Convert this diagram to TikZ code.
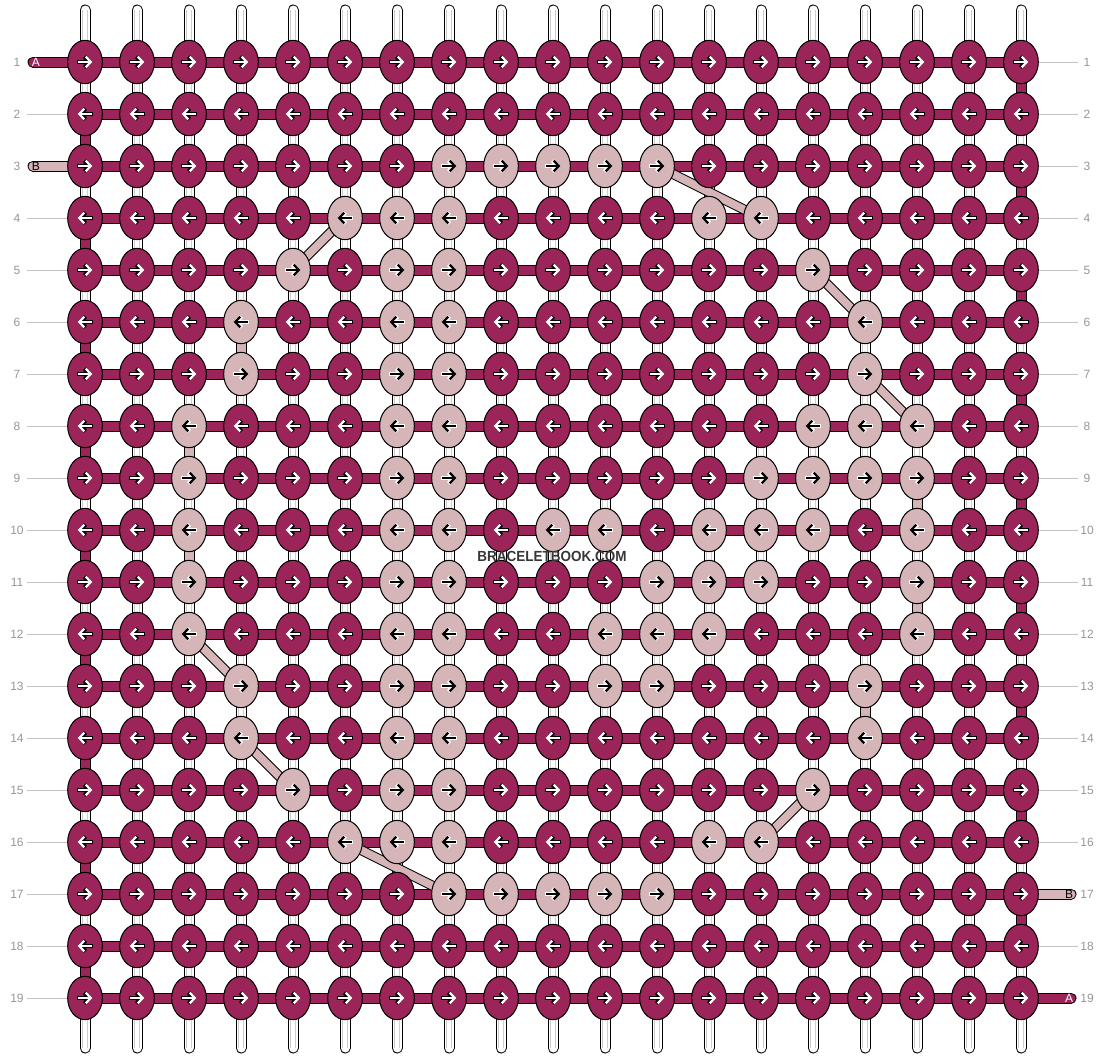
\documentclass[tikz,border=0pt]{standalone}
\usepackage{fontspec}
\setmainfont{Liberation Sans}
\usetikzlibrary{shapes.geometric,arrows.meta}
\definecolor{knotred}{RGB}{155,36,88}
\definecolor{knotpink}{RGB}{214,181,184}
\definecolor{labelgray}{RGB}{150,150,150}
\definecolor{leadgray}{RGB}{195,195,195}
\definecolor{threadgray}{RGB}{205,205,205}
\definecolor{markgray}{RGB}{55,55,55}
\pgfdeclarelayer{background}
\pgfsetlayers{background,main}
\newcommand\mypixel{0.75pt}

\begin{document}
\begin{tikzpicture}[x=\mypixel,y=-\mypixel,
		knot/.style={ellipse,draw=black,line width=0.75pt,minimum width=26pt,minimum height=32.5pt,inner sep=0pt,outer sep=0pt},
		redknot/.style={knot,fill=knotred},
		pinkknot/.style={knot,fill=knotpink},
		halo/.style={line width=3pt,shorten <=-0.7pt,-{Straight Barb[length=3.8pt,width=8pt]}},
		shaft/.style={line width=1.7pt,-{Straight Barb[length=3.8pt,width=8pt]}},
		barline/.style={line width=8.25pt,black},
		barfill/.style={line width=6.75pt},
		warpline/.style={line width=8.25pt,black},
		warpfill/.style={line width=6.75pt},
		slantline/.style={line width=7.5pt,black},
		slantfill/.style={line width=6pt,knotpink},
		rowlabel/.style={text=labelgray,font=\fontsize{9}{10}\selectfont,inner sep=0pt},
		taillabel/.style={font=\fontsize{9}{10}\selectfont,inner sep=0pt}]
			\useasboundingbox (0,0) rectangle (1104,1060);
			\foreach \r/\c in {3/8,3/9,3/10,3/11,3/12,4/6,4/7,4/8,4/13,4/14,5/5,5/7,5/8,5/15,
				6/4,6/7,6/8,6/16,7/4,7/7,7/8,7/16,8/3,8/7,8/8,8/15,8/16,8/17,
				9/3,9/7,9/8,9/14,9/15,9/16,9/17,10/3,10/7,10/8,10/10,10/11,10/13,10/14,10/15,10/17,
				11/3,11/7,11/8,11/12,11/13,11/14,11/17,12/3,12/7,12/8,12/11,12/12,12/13,12/17,
				13/4,13/7,13/8,13/11,13/12,13/16,14/4,14/7,14/8,14/16,15/5,15/7,15/8,15/15,
				16/6,16/7,16/8,16/13,16/14,17/8,17/9,17/10,17/11,17/12}
				{\expandafter\gdef\csname pk-\r-\c\endcsname{}}
			\foreach \r in {1,...,19}{
				\ifodd\r \def\arrowfrom{-5.5pt}\def\arrowto{5.5pt}\else \def\arrowfrom{5.5pt}\def\arrowto{-5.5pt}\fi
				\foreach \c in {1,...,19}{
					\ifcsname pk-\r-\c\endcsname
						\node[pinkknot] (k-\r-\c) at (33+52*\c,10+52*\r) {};
						\def\shaftcol{black}\def\halocol{white}
					\else
						\node[redknot] (k-\r-\c) at (33+52*\c,10+52*\r) {};
						\def\shaftcol{white}\def\halocol{black}
					\fi
					\draw[halo,\halocol] ([xshift=\arrowfrom]k-\r-\c.center) -- ([xshift=\arrowto]k-\r-\c.center);
					\draw[shaft,\shaftcol] ([xshift=\arrowfrom]k-\r-\c.center) -- ([xshift=\arrowto]k-\r-\c.center);
				}
				\node[rowlabel] (nl-\r) at (17,10+52*\r) {\r};
				\node[rowlabel] (nr-\r) at (1087,10+52*\r) {\r};
			}
			\coordinate (tail-a-l) at (33,62);
			\coordinate (tail-b-l) at (33,166);
			\coordinate (tail-b-r) at (1071,894);
			\coordinate (tail-a-r) at (1071,998);
			\node[taillabel,text=white] (lab-a-l) at (36,62) {A};
			\node[taillabel,text=black] (lab-b-l) at (36,166) {B};
			\node[taillabel,text=black] (lab-b-r) at (1069,894) {B};
			\node[taillabel,text=white] (lab-a-r) at (1069,998) {A};
			\node[font=\bfseries\fontsize{11}{13}\selectfont,text=markgray,xscale=0.92,inner sep=0pt] (mark) at (552,556) {BRACELETBOOK.COM};
			\begin{pgfonlayer}{background}
				\foreach \c in {1,...,19}{
					\coordinate (top-\c) at (33+52*\c,10);
					\coordinate (bot-\c) at (33+52*\c,1048);
					\draw[warpline,line cap=round] (top-\c) -- (bot-\c);
					\draw[warpfill,white,line cap=round] (top-\c) -- (bot-\c);
					\draw[threadgray,line width=0.6pt] ([xshift=-1.6pt]top-\c) -- ([xshift=-1.6pt]bot-\c);
					\draw[threadgray,line width=0.6pt] ([xshift=1.6pt]top-\c) -- ([xshift=1.6pt]bot-\c);
				}
				\foreach \r in {1,...,19}{
					\draw[barline] (k-\r-1.center) -- (k-\r-19.center);
					\draw[barfill,knotred] (k-\r-1.center) -- (k-\r-19.center);
				}
				\foreach \r [evaluate=\r as \s using int(\r+1)] in {2,4,...,18}{
					\draw[warpline] (k-\r-1.center) -- (k-\s-1.center);
					\draw[warpfill,knotred] (k-\r-1.center) -- (k-\s-1.center);
				}
				\foreach \r [evaluate=\r as \s using int(\r+1)] in {1,3,...,17}{
					\draw[warpline] (k-\r-19.center) -- (k-\s-19.center);
					\draw[warpfill,knotred] (k-\r-19.center) -- (k-\s-19.center);
				}
				\foreach \c/\r in {4/6,3/8,3/10,17/9,17/11,16/13}{
					\pgfmathtruncatemacro\s{\r+1}
					\draw[warpline] (k-\r-\c.center) -- (k-\s-\c.center);
					\draw[warpfill,knotpink] (k-\r-\c.center) -- (k-\s-\c.center);
				}
				\foreach \a/\b in {5-5/4-6,3-12/4-14,5-15/6-16,7-16/8-17,12-3/13-4,14-4/15-5,15-15/16-14,16-6/17-8}{
					\draw[slantline] (k-\a.center) -- (k-\b.center);
					\draw[slantfill] (k-\a.center) -- (k-\b.center);
				}
				\draw[barline,line cap=round] (tail-a-l) -- (k-1-1.center);
				\draw[barfill,knotred,line cap=round] (tail-a-l) -- (k-1-1.center);
				\draw[barline,line cap=round] (tail-b-l) -- (k-3-1.center);
				\draw[barfill,knotpink,line cap=round] (tail-b-l) -- (k-3-1.center);
				\draw[barline,line cap=round] (tail-b-r) -- (k-17-19.center);
				\draw[barfill,knotpink,line cap=round] (tail-b-r) -- (k-17-19.center);
				\draw[barline,line cap=round] (tail-a-r) -- (k-19-19.center);
				\draw[barfill,knotred,line cap=round] (tail-a-r) -- (k-19-19.center);
				\foreach \r in {2,4,5,...,19}{
					\coordinate (lead-l-\r) at (27,10+52*\r);
					\draw[leadgray,line width=0.75pt] (lead-l-\r) -- (k-\r-1.center);
				}
				\foreach \r in {1,...,16,18}{
					\coordinate (lead-r-\r) at (1078,10+52*\r);
					\draw[leadgray,line width=0.75pt] (lead-r-\r) -- (k-\r-19.center);
				}
			\end{pgfonlayer}
		\end{tikzpicture}
\end{document}
